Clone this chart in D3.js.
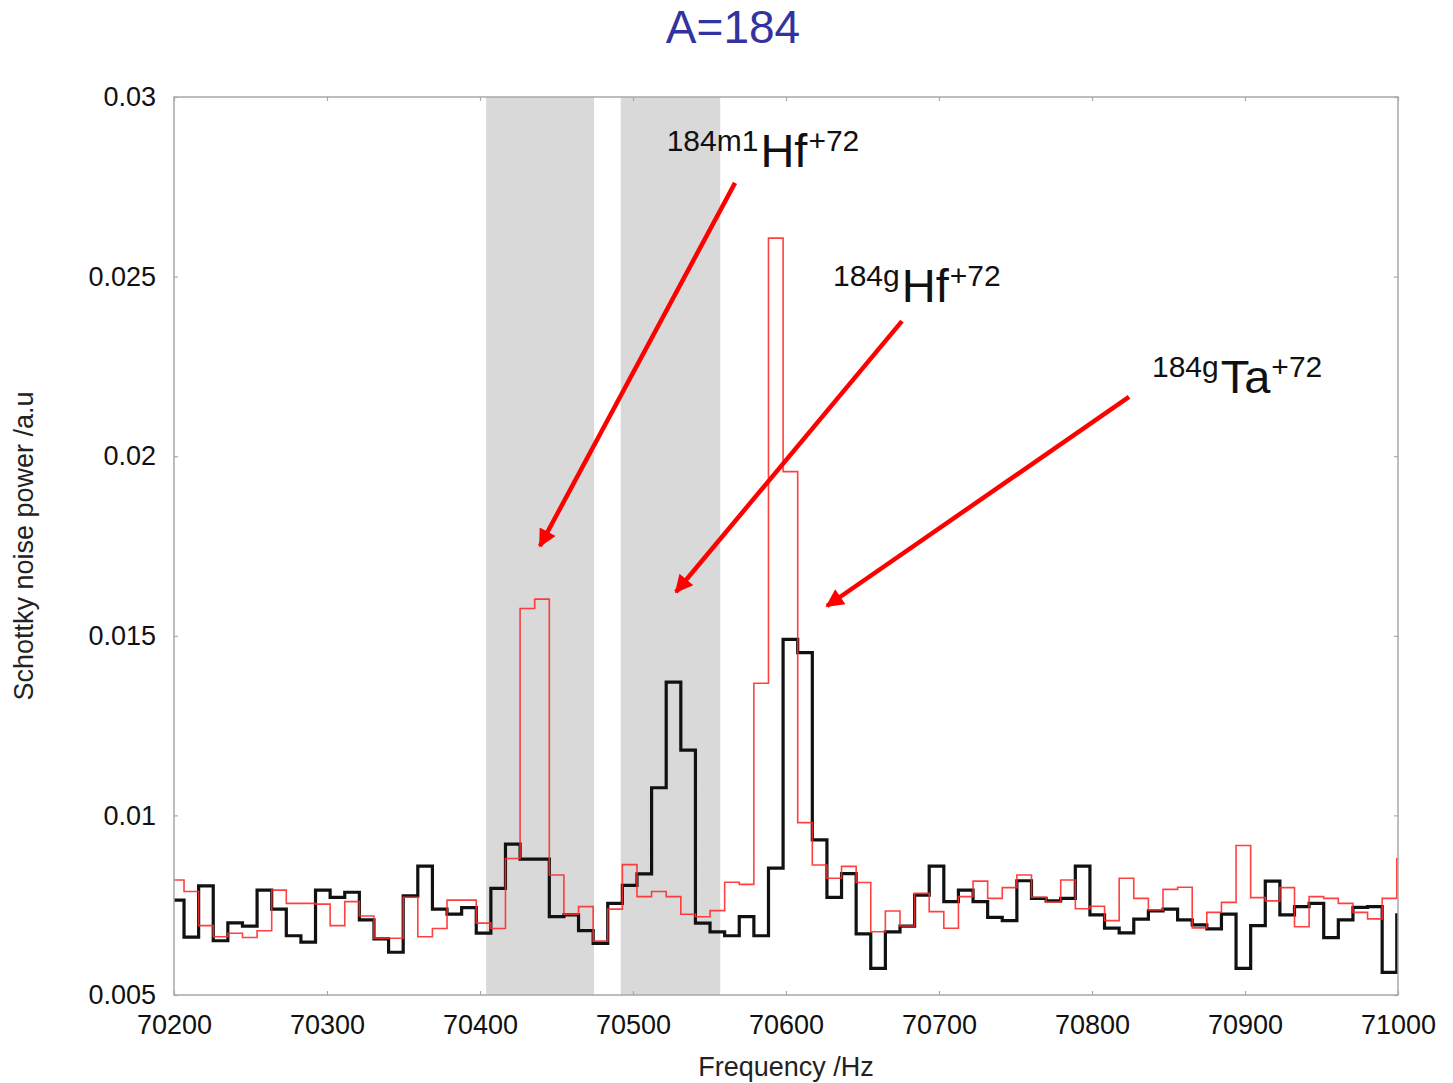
<!DOCTYPE html>
<html>
<head>
<meta charset="utf-8">
<script src="https://cdn.jsdelivr.net/npm/d3@7"></script>
<style>
  html, body { margin: 0; padding: 0; background: #fff; }
  svg { display: block; font-family: "Liberation Sans", Arial, Helvetica, sans-serif; }
</style>
</head>
<body>
<svg id="chart" width="1453" height="1083"></svg>
<script>
// Schottky spectrum, A=184, two measurements binned at a fixed frequency step
const binStart = 70197;      // Hz, left edge of the first bin
const binWidth = 9.55;       // Hz per bin

// Black trace (thick)
const powerBlack = [
  0.00764, 0.00661, 0.00804, 0.00651, 0.00701, 0.00692, 0.00792, 0.00739, 0.00665, 0.00647,
  0.00792, 0.00772, 0.00786, 0.00709, 0.00656, 0.00619, 0.00776, 0.00859, 0.00739, 0.00725,
  0.00743, 0.00672, 0.00797, 0.00920, 0.00878, 0.00878, 0.00718, 0.00723, 0.00679, 0.00644,
  0.00755, 0.00805, 0.00837, 0.01077, 0.01371, 0.01182, 0.00700, 0.00676, 0.00665, 0.00718,
  0.00665, 0.00853, 0.01490, 0.01453, 0.00932, 0.00772, 0.00838, 0.00670, 0.00574, 0.00676,
  0.00692, 0.00778, 0.00859, 0.00760, 0.00792, 0.00760, 0.00716, 0.00707, 0.00818, 0.00769,
  0.00762, 0.00769, 0.00859, 0.00723, 0.00686, 0.00673, 0.00711, 0.00734, 0.00739, 0.00709,
  0.00695, 0.00684, 0.00725, 0.00574, 0.00693, 0.00817, 0.00723, 0.00746, 0.00755, 0.00660,
  0.00709, 0.00744, 0.00746, 0.00563, 0.00723
];

// Red trace (thin)
const powerRed = [
  0.00820, 0.00788, 0.00693, 0.00662, 0.00672, 0.00660, 0.00679, 0.00792, 0.00755, 0.00755,
  0.00753, 0.00693, 0.00760, 0.00720, 0.00658, 0.00658, 0.00772, 0.00662, 0.00685, 0.00764,
  0.00764, 0.00700, 0.00685, 0.00880, 0.01576, 0.01602, 0.00834, 0.00725, 0.00746, 0.00650,
  0.00739, 0.00863, 0.00774, 0.00788, 0.00774, 0.00725, 0.00718, 0.00735, 0.00814, 0.00808,
  0.01368, 0.02607, 0.01957, 0.00980, 0.00862, 0.00825, 0.00858, 0.00813, 0.00676, 0.00734,
  0.00692, 0.00783, 0.00732, 0.00686, 0.00774, 0.00817, 0.00769, 0.00799, 0.00834, 0.00772,
  0.00759, 0.00820, 0.00740, 0.00747, 0.00707, 0.00825, 0.00769, 0.00737, 0.00794, 0.00800,
  0.00687, 0.00730, 0.00758, 0.00916, 0.00771, 0.00762, 0.00799, 0.00690, 0.00774, 0.00769,
  0.00755, 0.00730, 0.00712, 0.00769, 0.00879
];

// Shaded frequency windows [from, to] in Hz
const bands = [[70404, 70474.5], [70492, 70557]];

const xTicks = [70200, 70300, 70400, 70500, 70600, 70700, 70800, 70900, 71000];
const yTicks = [0.005, 0.01, 0.015, 0.02, 0.025, 0.03];
const yTickLabels = ["0.005", "0.01", "0.015", "0.02", "0.025", "0.03"];

// Isotope annotations: label anchor and arrow tail/tip in data units
const isoPre = ["184m1", "184g", "184g"];
const isoEl = ["Hf", "Hf", "Ta"];
const isoPost = ["+72", "+72", "+72"];
const labelAt = [[70522, 0.02850], [70630.7, 0.02474], [70839.2, 0.02221]];
const arrowFrom = [[70566.7, 0.02761], [70675.8, 0.02376], [70824.2, 0.02165]];
const arrowTo = [[70439.2, 0.01750], [70528.1, 0.01622], [70626.8, 0.01583]];

const svg = d3.select("#chart");
const plotLeft = 174, plotRight = 1398, plotTop = 97, plotBottom = 995;

const x = d3.scaleLinear().domain([70200, 71000]).range([plotLeft, plotRight]);
const y = d3.scaleLinear().domain([0.005, 0.03]).range([plotBottom, plotTop]);

const defs = svg.append("defs");

// Clip everything plotted to the frame
defs.append("clipPath").attr("id", "plotClip")
  .append("rect").attr("x", plotLeft).attr("y", plotTop)
  .attr("width", plotRight - plotLeft).attr("height", plotBottom - plotTop);

const plot = svg.append("g").attr("clip-path", "url(#plotClip)");

plot.selectAll("rect.band").data(bands).join("rect")
  .attr("class", "band")
  .attr("x", d => x(d[0]))
  .attr("y", plotTop)
  .attr("width", d => x(d[1]) - x(d[0]))
  .attr("height", plotBottom - plotTop)
  .attr("fill", "#d9d9d9");

// Histogram-style step path: each value holds from its bin edge to the next
function stepPoints(values) {
  const pts = values.map((v, i) => [binStart + i * binWidth, v]);
  pts.push([binStart + values.length * binWidth, values[values.length - 1]]);
  return pts;
}
const line = d3.line().x(d => x(d[0])).y(d => y(d[1])).curve(d3.curveStepAfter);

plot.append("path").datum(stepPoints(powerBlack))
  .attr("d", line).attr("fill", "none")
  .attr("stroke", "#111").attr("stroke-width", 3.2).attr("stroke-linejoin", "miter");

plot.append("path").datum(stepPoints(powerRed))
  .attr("d", line).attr("fill", "none")
  .attr("stroke", "#ff2b2b").attr("stroke-width", 1.6).attr("stroke-opacity", 0.9);

// Frame with small inward ticks on all sides
const axisColor = "#a8a8a8";
function styleAxis(g) {
  g.select(".domain").remove();
  g.selectAll(".tick line").attr("stroke", axisColor).attr("stroke-width", 1.2);
  g.selectAll(".tick text").attr("fill", "#111").attr("font-size", 27)
    .attr("font-family", "'Liberation Sans', Arial, Helvetica, sans-serif");
}

svg.append("g").attr("transform", `translate(0,${plotBottom})`)
  .call(d3.axisBottom(x).tickValues(xTicks).tickFormat(d3.format("d"))
    .tickSizeInner(-4).tickSizeOuter(0).tickPadding(20))
  .call(styleAxis);

svg.append("g").attr("transform", `translate(0,${plotTop})`)
  .call(d3.axisTop(x).tickValues(xTicks).tickFormat("")
    .tickSizeInner(-4).tickSizeOuter(0))
  .call(styleAxis);

svg.append("g").attr("transform", `translate(${plotLeft},0)`)
  .call(d3.axisLeft(y).tickValues(yTicks).tickFormat((d, i) => yTickLabels[i])
    .tickSizeInner(-4).tickSizeOuter(0).tickPadding(18))
  .call(styleAxis);

svg.append("g").attr("transform", `translate(${plotRight},0)`)
  .call(d3.axisRight(y).tickValues(yTicks).tickFormat("")
    .tickSizeInner(-4).tickSizeOuter(0))
  .call(styleAxis);

svg.append("rect")
  .attr("x", plotLeft).attr("y", plotTop)
  .attr("width", plotRight - plotLeft).attr("height", plotBottom - plotTop)
  .attr("fill", "none").attr("stroke", axisColor).attr("stroke-width", 1.5);

// Axis titles
svg.append("text")
  .attr("x", (plotLeft + plotRight) / 2).attr("y", 1076)
  .attr("text-anchor", "middle").attr("font-size", 27).attr("fill", "#222")
  .text("Frequency /Hz");

svg.append("text")
  .attr("transform", `translate(33,${(plotTop + plotBottom) / 2}) rotate(-90)`)
  .attr("text-anchor", "middle").attr("font-size", 27).attr("fill", "#222")
  .text("Schottky noise power /a.u");

// Title
svg.append("text")
  .attr("x", 733).attr("y", 43)
  .attr("text-anchor", "middle").attr("font-size", 46).attr("fill", "#3333a0")
  .text("A=184");

// Arrows
defs.append("marker").attr("id", "arrowHead")
  .attr("viewBox", "0 0 10 10").attr("refX", 9).attr("refY", 5)
  .attr("markerWidth", 4.6).attr("markerHeight", 4)
  .attr("markerUnits", "strokeWidth").attr("orient", "auto")
  .append("path").attr("d", "M0,0 L10,5 L0,10 Z").attr("fill", "#ff0000");

svg.append("g").selectAll("line").data(arrowFrom).join("line")
  .attr("x1", d => x(d[0])).attr("y1", d => y(d[1]))
  .attr("x2", (d, i) => x(arrowTo[i][0])).attr("y2", (d, i) => y(arrowTo[i][1]))
  .attr("stroke", "#ff0000").attr("stroke-width", 4.5)
  .attr("marker-end", "url(#arrowHead)");

// Isotope labels: mass prefix, element symbol lowered and larger, charge raised
const labels = svg.append("g").selectAll("text").data(labelAt).join("text")
  .attr("x", d => x(d[0])).attr("y", d => y(d[1]))
  .attr("fill", "#111");
labels.append("tspan").attr("font-size", 30).text((d, i) => isoPre[i]);
labels.append("tspan").attr("font-size", 47).attr("dx", 2).attr("dy", 16).text((d, i) => isoEl[i]);
labels.append("tspan").attr("font-size", 30).attr("dx", 1).attr("dy", -16).text((d, i) => isoPost[i]);
</script>
</body>
</html>
